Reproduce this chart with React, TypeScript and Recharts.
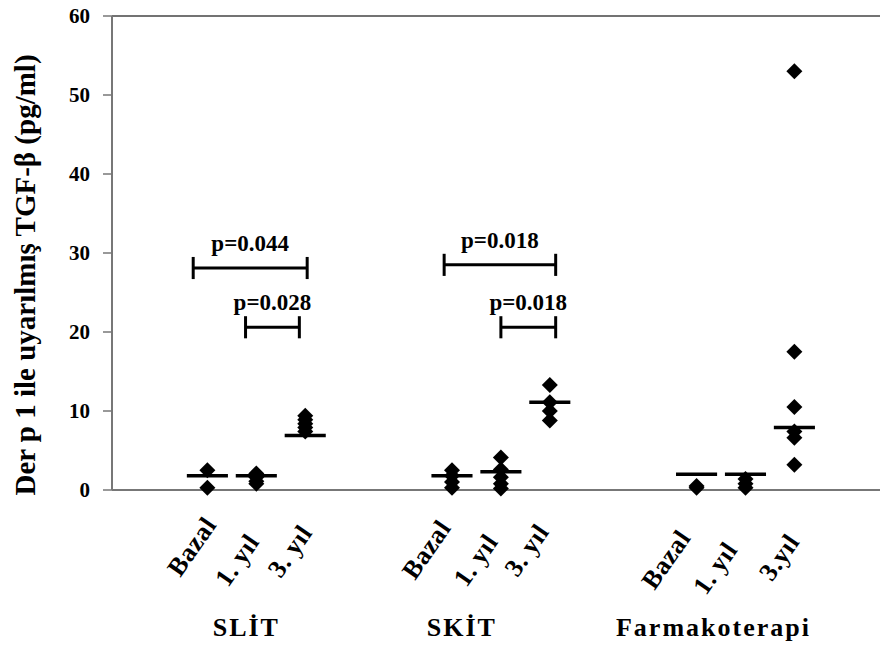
import { ScatterChart, Scatter, XAxis, YAxis, ReferenceLine } from 'recharts'

// kategoriler (x ekseni)
const categories = ['Bazal', '1. yıl', '3. yıl', 'Bazal', '1. yıl', '3. yıl', 'Bazal', '1. yıl', '3.yıl']
const categoryX = [1, 2, 3, 6, 7, 8, 11, 12, 13]
const groups = ['SLİT', 'SKİT', 'Farmakoterapi']

// TGF-β değerleri (pg/ml)
const slitBazal = [2.5, 0.3]
const slit1 = [2.1, 1.6, 1.1, 0.8]
const slit3 = [9.4, 8.9, 8.4, 7.9, 7.4]
const skitBazal = [2.5, 1.8, 1.0, 0.3]
const skit1 = [4.1, 2.6, 1.6, 0.8, 0.2]
const skit3 = [13.3, 11.1, 10.0, 8.8]
const farmaBazal = [0.5, 0.3]
const farma1 = [1.4, 0.8, 0.3]
const farma3 = [53, 17.5, 10.5, 7.4, 6.6, 3.2]
const medians = [1.8, 1.8, 6.9, 1.8, 2.3, 11.1, 2.0, 2.0, 7.9]

// p değerleri
const bracketStart = [0.71, 1.78, 5.84, 7.0]
const bracketEnd = [3.04, 2.88, 8.12, 8.12]
const bracketY = [28.1, 20.6, 28.5, 20.6]
const bracketLabels = ['p=0.044', 'p=0.028', 'p=0.018', 'p=0.018']

const yTicks = [0, 10, 20, 30, 40, 50, 60]
const yTitle = 'Der p 1 ile uyarılmış TGF-β (pg/ml)'

const allValues = [slitBazal, slit1, slit3, skitBazal, skit1, skit3, farmaBazal, farma1, farma3]
const points = allValues.flatMap((vals, i) => vals.map((v) => ({ x: categoryX[i], y: v })))

const FONT = '"Liberation Serif", "Times New Roman", serif'

// label offsets [dx, dy] for each group / position
const tickOffsets = [
  [[10, 35], [4, 52], [8, 43]],
  [[0, 38], [-2, 52], [0, 42]],
  [[-5, 48], [-7, 60], [6, 52]],
]
const groupShift = [-10, -39, -32]

const Diamond = (props: any) => {
  const { cx, cy } = props
  if (cx == null || cy == null) return null
  return <polygon points={`${cx},${cy - 8} ${cx + 8},${cy} ${cx},${cy + 8} ${cx - 8},${cy}`} fill="#000" />
}

const CategoryTick = (props: any) => {
  const { x, y, payload } = props
  const i = categoryX.indexOf(payload.value)
  if (i < 0) return null
  const g = Math.floor(i / 3)
  const j = i % 3
  const [dx, dy] = tickOffsets[g][j]
  return (
    <g>
      <text
        transform={`translate(${x + dx},${y + dy}) rotate(-55)`}
        textAnchor="end"
        fontSize={26}
        fontWeight="bold"
        letterSpacing={0.5}
        fill="#000"
        fontFamily={FONT}
      >
        {categories[i]}
      </text>
      {j === 1 && (
        <text
          x={x + groupShift[g]}
          y={y + 146}
          textAnchor="middle"
          fontSize={26}
          fontWeight="bold"
          letterSpacing={2}
          fill="#000"
          fontFamily={FONT}
        >
          {groups[g]}
        </text>
      )}
    </g>
  )
}

export default function App() {
  return (
    <div style={{ position: 'absolute', left: 0, top: 0, width: 883, height: 651, background: '#fff', fontFamily: FONT }}>
      <ScatterChart width={883} height={651} margin={{ top: 16, right: 3, bottom: 0, left: 0 }}>
        <XAxis
          type="number"
          dataKey="x"
          domain={[-0.95, 14.75]}
          ticks={categoryX}
          tick={<CategoryTick />}
          tickLine={false}
          tickSize={0}
          tickMargin={0}
          height={161}
          axisLine={{ stroke: '#777', strokeWidth: 2 }}
          interval={0}
        />
        <YAxis
          type="number"
          dataKey="y"
          domain={[0, 60]}
          ticks={yTicks}
          width={112}
          tickSize={9}
          tickMargin={13}
          tickLine={{ stroke: '#777', strokeWidth: 1.5 }}
          axisLine={{ stroke: '#777', strokeWidth: 2 }}
          tick={{ fontSize: 21, fontWeight: 'bold', fill: '#000', fontFamily: FONT }}
          label={{
            value: yTitle,
            content: () => (
              <text
                x={35}
                y={275}
                transform="rotate(-90 35 275)"
                textAnchor="middle"
                fontSize={29}
                fontWeight="bold"
                fill="#000"
                fontFamily={FONT}
              >
                {yTitle}
              </text>
            ),
          }}
        />
        <ReferenceLine y={60} stroke="#444" strokeWidth={1.5} />
        <Scatter data={points} dataKey="y" fill="#000" shape={<Diamond />} isAnimationActive={false} />
        {medians.map((m, i) => (
          <ReferenceLine
            key={`m${i}`}
            segment={[{ x: categoryX[i] - 0.42, y: m }, { x: categoryX[i] + 0.42, y: m }]}
            stroke="#000"
            strokeWidth={3.5}
          />
        ))}
        {bracketLabels.map((lab, i) => (
          <ReferenceLine
            key={`b${i}`}
            segment={[{ x: bracketStart[i], y: bracketY[i] }, { x: bracketEnd[i], y: bracketY[i] }]}
            stroke="#000"
            strokeWidth={3}
            label={{ value: lab, position: 'top', offset: 17, fill: '#000', fontSize: 23, fontWeight: 'bold', fontFamily: FONT }}
          />
        ))}
        {bracketLabels.map((_, i) => (
          <ReferenceLine
            key={`l${i}`}
            segment={[{ x: bracketStart[i], y: bracketY[i] - 1.4 }, { x: bracketStart[i], y: bracketY[i] + 1.4 }]}
            stroke="#000"
            strokeWidth={3}
          />
        ))}
        {bracketLabels.map((_, i) => (
          <ReferenceLine
            key={`r${i}`}
            segment={[{ x: bracketEnd[i], y: bracketY[i] - 1.4 }, { x: bracketEnd[i], y: bracketY[i] + 1.4 }]}
            stroke="#000"
            strokeWidth={3}
          />
        ))}
      </ScatterChart>
    </div>
  )
}
